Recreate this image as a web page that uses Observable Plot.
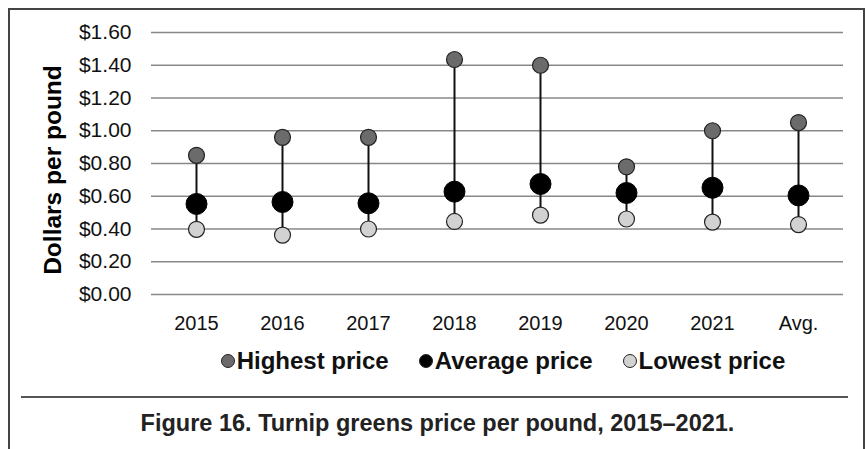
<!DOCTYPE html>
<html>
<head>
<meta charset="utf-8">
<script src="https://cdn.jsdelivr.net/npm/d3@7"></script>
<script src="https://cdn.jsdelivr.net/npm/@observablehq/plot@0.6"></script>
<style>
  html, body { margin: 0; padding: 0; background: #fff; }
  #wrap { position: relative; width: 867px; height: 449px; overflow: hidden; font-family: "Liberation Sans", Arial, Helvetica, sans-serif; background: #fff; }
  #chart { position: absolute; left: 0; top: 0; }
  .bline { position: absolute; background: #444; z-index: 5; }
  #legend { position: absolute; left: 0; width: 1006px; top: 347px; height: 28px; display: flex; justify-content: center; align-items: center; font-weight: bold; font-size: 24px; color: #111; }
  .item { display: flex; align-items: center; margin: 0 15px; }
  .sw { width: 14px; height: 14px; border-radius: 50%; border: 1px solid #222; box-sizing: border-box; margin-right: 2px; }
  #caption { position: absolute; left: 0; width: 875px; top: 410px; text-align: center; font-weight: bold; font-size: 23.5px; color: #222; }
  #ytitle { position: absolute; left: 53px; top: 170px; transform: translate(-50%, -50%) rotate(-90deg); white-space: nowrap; font-weight: bold; font-size: 24.5px; color: #000; }
</style>
</head>
<body>
<div id="wrap">
  <div id="chart"></div>
  <div class="bline" style="left:8px; top:8px; width:857px; height:2px;"></div>
  <div class="bline" style="left:8px; top:8px; width:2px; height:441px;"></div>
  <div class="bline" style="left:863px; top:8px; width:2px; height:441px;"></div>
  <div class="bline" style="left:21px; top:396px; width:827px; height:1.5px; background:#555;"></div>
  <div id="ytitle"></div>
  <div id="legend"></div>
  <div id="caption"></div>
</div>
<script>
const categories = ["2015", "2016", "2017", "2018", "2019", "2020", "2021", "Avg."];
const highest = [0.85, 0.96, 0.96, 1.435, 1.40, 0.78, 1.00, 1.05];
const average = [0.553, 0.565, 0.557, 0.628, 0.675, 0.62, 0.652, 0.605];
const lowest  = [0.398, 0.363, 0.40, 0.446, 0.485, 0.461, 0.442, 0.427];
const yTicks = [0, 0.2, 0.4, 0.6, 0.8, 1.0, 1.2, 1.4, 1.6];
const seriesNames = ["Highest price", "Average price", "Lowest price"];
const seriesColors = ["#6b6b6b", "#000000", "#d2d2d2"];
const yTitle = "Dollars per pound";
const captionText = "Figure 16. Turnip greens price per pound, 2015\u20132021.";

const rows = categories.map((c, i) => ({cat: c, high: highest[i], avg: average[i], low: lowest[i]}));

const chart = Plot.plot({
  width: 867,
  height: 340,
  marginTop: 32,
  marginBottom: 46,
  marginLeft: 151,
  marginRight: 24,
  style: {fontFamily: '"Liberation Sans", Arial, Helvetica, sans-serif', background: "transparent", color: "#111"},
  x: {type: "point", domain: categories, padding: 0.5},
  y: {domain: [0, 1.6]},
  marks: [
    Plot.ruleY(yTicks, {stroke: "#888", strokeWidth: 1.5}),
    Plot.axisY({ticks: yTicks, tickSize: 0, tickPadding: 20, fontSize: 21, label: null, tickFormat: d => "$" + d.toFixed(2)}),
    Plot.axisX({tickSize: 0, tickPadding: 21, fontSize: 20, label: null}),
    Plot.ruleX(rows, {x: "cat", y1: "low", y2: "high", stroke: "#111", strokeWidth: 2}),
    Plot.dot(rows, {x: "cat", y: "high", r: 8, fill: seriesColors[0], stroke: "#222", strokeWidth: 1.2}),
    Plot.dot(rows, {x: "cat", y: "low", r: 8, fill: seriesColors[2], stroke: "#222", strokeWidth: 1.2}),
    Plot.dot(rows, {x: "cat", y: "avg", r: 10.5, fill: seriesColors[1], stroke: "#000", strokeWidth: 1})
  ]
});
document.getElementById("chart").appendChild(chart);

document.getElementById("ytitle").textContent = yTitle;
const legend = document.getElementById("legend");
seriesNames.forEach((n, i) => {
  const it = document.createElement("div");
  it.className = "item";
  const sw = document.createElement("span");
  sw.className = "sw";
  sw.style.background = seriesColors[i];
  const t = document.createElement("span");
  t.textContent = n;
  it.appendChild(sw);
  it.appendChild(t);
  legend.appendChild(it);
});
document.getElementById("caption").textContent = captionText;
</script>
</body>
</html>
